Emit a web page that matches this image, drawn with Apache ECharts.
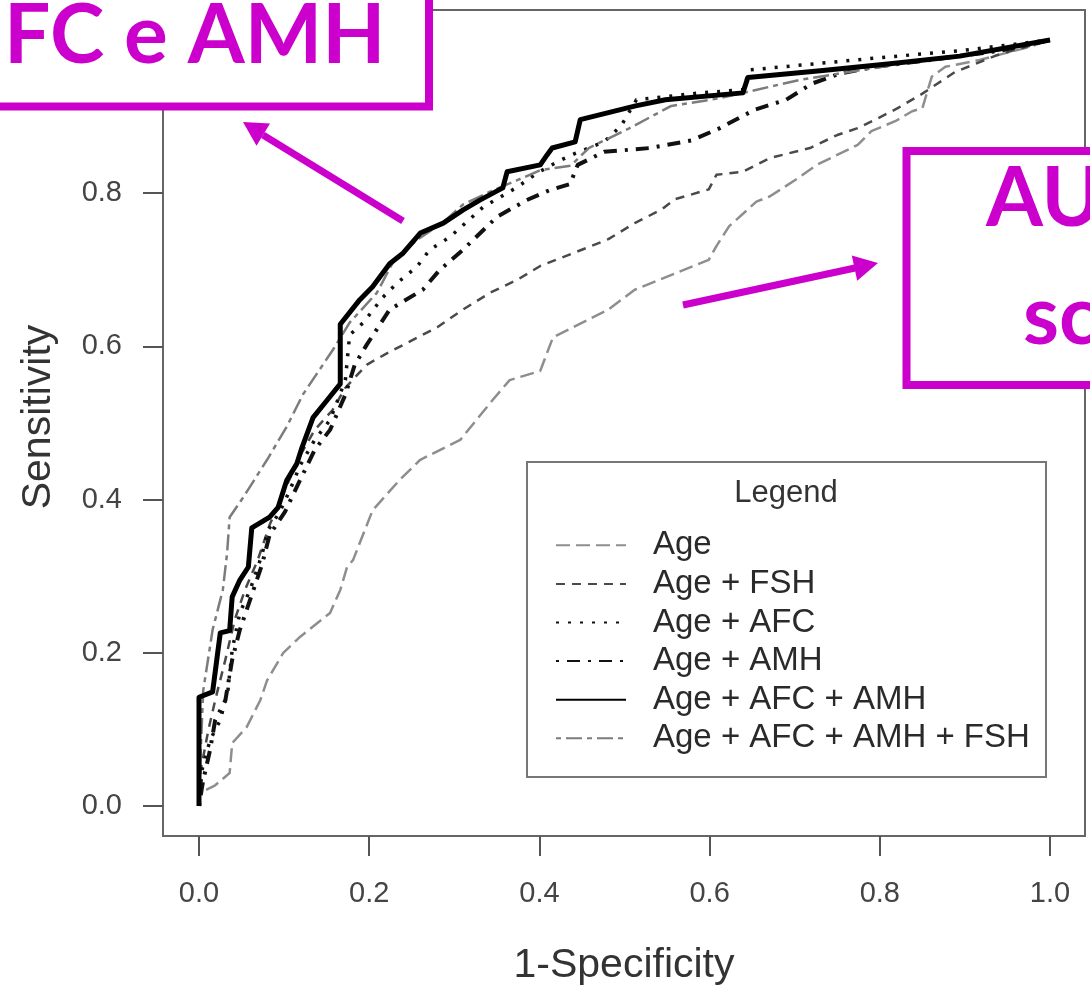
<!DOCTYPE html>
<html><head><meta charset="utf-8">
<script src="https://cdn.jsdelivr.net/npm/echarts@6.0.0/dist/echarts.min.js"></script>
<style>html,body{margin:0;padding:0;background:#fff}#c{width:1090px;height:985px}</style>
</head><body><div id="c"></div>
<script>
// ---- data ----
const seriesNames = ['Age', 'Age + FSH', 'Age + AFC', 'Age + AMH', 'Age + AFC + AMH', 'Age + AFC + AMH + FSH'];
const tickValues = [0, 0.2, 0.4, 0.6, 0.8, 1.0];
const xTitle = '1-Specificity';
const yTitle = 'Sensitivity';
const legendTitle = 'Legend';
const noteLeft = 'FC e AMH';
const noteRight1 = 'AU';
const noteRight2 = 'sc';

// [1-specificity, sensitivity]
const curveAge = [[0,0],[0.001,0.017],[0.019,0.027],[0.036,0.043],[0.039,0.082],[0.056,0.103],[0.072,0.138],[0.080,0.164],[0.099,0.200],[0.119,0.221],[0.154,0.252],[0.166,0.282],[0.174,0.312],[0.181,0.321],[0.204,0.386],[0.236,0.426],[0.260,0.452],[0.307,0.478],[0.345,0.530],[0.365,0.556],[0.401,0.568],[0.416,0.612],[0.481,0.648],[0.512,0.674],[0.599,0.713],[0.608,0.731],[0.623,0.757],[0.655,0.789],[0.671,0.796],[0.703,0.819],[0.726,0.837],[0.774,0.863],[0.790,0.881],[0.818,0.894],[0.838,0.907],[0.850,0.911],[0.861,0.952],[0.877,0.965],[0.917,0.974],[0.976,0.991],[1,1]];
const curveAgeFsh = [[0,0],[0.002,0.047],[0.011,0.099],[0.019,0.138],[0.031,0.191],[0.042,0.243],[0.054,0.282],[0.069,0.321],[0.083,0.367],[0.101,0.413],[0.119,0.458],[0.136,0.491],[0.157,0.517],[0.172,0.546],[0.197,0.576],[0.224,0.593],[0.240,0.602],[0.280,0.625],[0.310,0.648],[0.342,0.670],[0.374,0.687],[0.401,0.705],[0.461,0.731],[0.481,0.740],[0.512,0.761],[0.544,0.779],[0.559,0.792],[0.599,0.805],[0.608,0.824],[0.639,0.828],[0.671,0.846],[0.718,0.859],[0.750,0.876],[0.774,0.885],[0.798,0.898],[0.821,0.911],[0.850,0.930],[0.888,0.958],[0.937,0.980],[1,1]];
const curveAgeAfc = [[0,0],[0.0035,0.047],[0.013,0.086],[0.025,0.112],[0.034,0.151],[0.039,0.204],[0.048,0.252],[0.060,0.282],[0.074,0.328],[0.081,0.360],[0.095,0.384],[0.107,0.413],[0.119,0.445],[0.136,0.478],[0.154,0.504],[0.172,0.556],[0.177,0.615],[0.193,0.631],[0.216,0.664],[0.233,0.683],[0.256,0.704],[0.271,0.726],[0.295,0.743],[0.334,0.782],[0.374,0.808],[0.397,0.826],[0.421,0.841],[0.442,0.852],[0.476,0.867],[0.496,0.888],[0.514,0.922],[0.589,0.931],[0.639,0.935],[0.647,0.961],[0.800,0.977],[0.894,0.986],[1,1]];
const curveAgeAmh = [[0,0],[0.005,0.034],[0.013,0.073],[0.019,0.112],[0.031,0.138],[0.039,0.191],[0.048,0.230],[0.060,0.269],[0.074,0.315],[0.083,0.354],[0.101,0.384],[0.119,0.426],[0.136,0.465],[0.154,0.491],[0.172,0.537],[0.183,0.576],[0.197,0.602],[0.224,0.648],[0.263,0.674],[0.283,0.700],[0.310,0.726],[0.350,0.769],[0.385,0.791],[0.412,0.804],[0.436,0.812],[0.445,0.837],[0.476,0.854],[0.530,0.859],[0.579,0.869],[0.612,0.885],[0.653,0.909],[0.690,0.922],[0.720,0.943],[0.753,0.956],[0.794,0.965],[0.859,0.974],[0.941,0.986],[1,1]];
const curveAgeAfcAmh = [[0,0],[0,0.142],[0.016,0.149],[0.025,0.226],[0.036,0.229],[0.039,0.273],[0.048,0.295],[0.058,0.312],[0.062,0.363],[0.083,0.377],[0.093,0.390],[0.103,0.425],[0.115,0.447],[0.121,0.468],[0.134,0.507],[0.150,0.529],[0.166,0.551],[0.166,0.629],[0.189,0.661],[0.204,0.678],[0.224,0.708],[0.240,0.722],[0.260,0.748],[0.287,0.761],[0.310,0.778],[0.330,0.791],[0.357,0.807],[0.362,0.828],[0.401,0.837],[0.409,0.850],[0.415,0.859],[0.442,0.867],[0.448,0.896],[0.513,0.914],[0.548,0.922],[0.639,0.931],[0.645,0.951],[0.730,0.960],[0.812,0.969],[0.894,0.979],[1,1]];
const curveAgeAfcAmhFsh = [[0,0],[0.002,0.073],[0.005,0.151],[0.016,0.230],[0.028,0.282],[0.033,0.330],[0.036,0.377],[0.052,0.403],[0.080,0.452],[0.103,0.495],[0.122,0.537],[0.157,0.595],[0.177,0.631],[0.209,0.670],[0.228,0.710],[0.256,0.739],[0.287,0.762],[0.310,0.785],[0.342,0.802],[0.374,0.817],[0.401,0.830],[0.437,0.836],[0.458,0.859],[0.506,0.885],[0.555,0.914],[0.612,0.924],[0.706,0.948],[0.824,0.969],[0.941,0.987],[1,1]];

const curves = [curveAge, curveAgeFsh, curveAgeAfc, curveAgeAmh, curveAgeAfcAmh, curveAgeAfcAmhFsh];
const styles = [
  {color:'#8e8e8e', width:2.5, type:[14,6]},
  {color:'#4a4a4a', width:2.5, type:[9,7]},
  {color:'#111111', width:3.5, type:[3,9]},
  {color:'#111111', width:4,   type:[3,8,13,8]},
  {color:'#000000', width:5,   type:'solid'},
  {color:'#7c7c7c', width:2.5, type:[5,5,16,5]}
];

const FONT = "'Liberation Sans', Arial, Helvetica, sans-serif";
const MAG = '#CC00CC';
const NOTE_FONT = "bold 82px Lato, 'Open Sans', sans-serif";

const chart = echarts.init(document.getElementById('c'), null, {renderer:'canvas'});

const series = curves.map((d, i) => ({
  name: seriesNames[i],
  type: 'line',
  data: d,
  symbol: 'none',
  showSymbol: false,
  smooth: false,
  z: i === 4 ? 5 : 3,
  lineStyle: {color: styles[i].color, width: styles[i].width, type: styles[i].type, cap: 'butt', join: 'round'},
  itemStyle: {color: styles[i].color},
  emphasis: {disabled: true}
}));

const fmt = v => v.toFixed(1);

chart.setOption({
  animation: false,
  backgroundColor: '#ffffff',
  grid: {left: 163, right: 5, top: 10, bottom: 149, containLabel: false, outerBoundsMode: 'none', show: true, borderColor: '#666', borderWidth: 2, backgroundColor: 'transparent'},
  xAxis: {
    type: 'value', min: -0.0423, max: 1.0411,
    name: xTitle, nameLocation: 'middle', nameGap: 109,
    nameTextStyle: {fontFamily: FONT, fontSize: 41, color: '#333'},
    axisLine: {show: true, onZero: false, lineStyle: {color: '#666', width: 2}},
    axisTick: {show: true, inside: false, length: 20, customValues: tickValues, lineStyle: {color: '#555', width: 2}},
    axisLabel: {show: true, customValues: tickValues, formatter: fmt, margin: 43, fontFamily: FONT, fontSize: 29, color: '#444'},
    splitLine: {show: false}
  },
  yAxis: {
    type: 'value', min: -0.0392, max: 1.0392,
    name: yTitle, nameLocation: 'middle', nameGap: 104,
    nameTextStyle: {fontFamily: FONT, fontSize: 41, color: '#333', padding: [0, 0, 0, 12]},
    axisLine: {show: true, onZero: false, lineStyle: {color: '#666', width: 2}},
    axisTick: {show: true, inside: false, length: 20, customValues: tickValues, lineStyle: {color: '#555', width: 2}},
    axisLabel: {show: true, customValues: tickValues, formatter: fmt, margin: 41, fontFamily: FONT, fontSize: 29, color: '#444'},
    splitLine: {show: false}
  },
  legend: {
    data: seriesNames,
    orient: 'vertical',
    left: 555, top: 526,
    itemWidth: 70, itemHeight: 20, itemGap: 0,
    padding: 0,
    selectedMode: false,
    itemStyle: {opacity: 0, borderWidth: 0},
    textStyle: {fontFamily: FONT, fontSize: 33, color: '#2a2a2a', lineHeight: 38.6, padding: [0,0,0,22]},
    z: 6
  },
  series: series,
  graphic: [
    {type:'rect', z: 4, shape:{x:527, y:462, width:519, height:315}, style:{fill:'#fff', stroke:'#777', lineWidth:2}},
    {type:'text', z: 6, style:{text: legendTitle, x: 786, y: 493, align:'center', verticalAlign:'middle', font: "31px 'Liberation Sans', Arial, sans-serif", fill:'#333'}},
    // magenta annotations
    {type:'rect', z: 100, shape:{x:-30, y:-30, width:459, height:136.5}, style:{fill:'#fff', stroke:MAG, lineWidth:8}},
    {type:'text', z: 101, style:{text: noteLeft, x: 4, y: 37, align:'left', verticalAlign:'middle', font: NOTE_FONT, fill: MAG}},
    {type:'rect', z: 100, shape:{x:906.5, y:151, width:300, height:234}, style:{fill:'#fff', stroke:MAG, lineWidth:8}},
    {type:'text', z: 101, style:{text: noteRight1, x: 986, y: 200, align:'left', verticalAlign:'middle', font: NOTE_FONT, fill: MAG}},
    {type:'text', z: 101, style:{text: noteRight2, x: 1023, y: 318, align:'left', verticalAlign:'middle', font: NOTE_FONT, fill: MAG}},
    {type:'line', z: 100, shape:{x1:403, y1:221, x2:263, y2:135}, style:{stroke:MAG, lineWidth:7}},
    {type:'polygon', z: 100, shape:{points:[[243,122],[270,123.5],[256.5,145.7]]}, style:{fill:MAG}},
    {type:'line', z: 100, shape:{x1:683, y1:305, x2:855, y2:268}, style:{stroke:MAG, lineWidth:7}},
    {type:'polygon', z: 100, shape:{points:[[878,263],[857.2,280.8],[851.8,255.4]]}, style:{fill:MAG}}
  ]
});
</script>
</body></html>
